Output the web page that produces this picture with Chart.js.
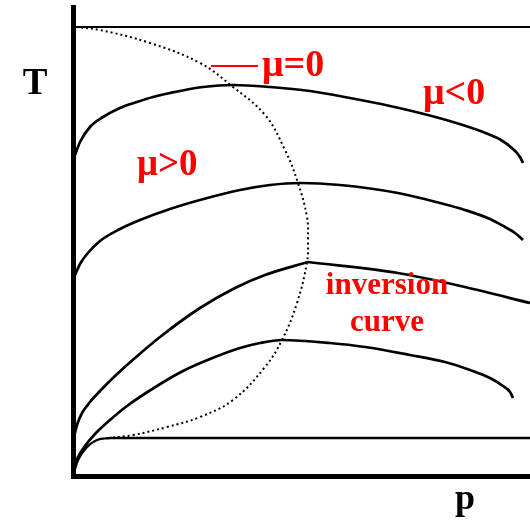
<!DOCTYPE html>
<html>
<head>
<meta charset="utf-8">
<script src="https://cdn.jsdelivr.net/npm/chart.js@4/dist/chart.umd.min.js"></script>
<style>
  html, body { margin: 0; padding: 0; background: #fff; }
  canvas { display: block; }
</style>
</head>
<body>
<canvas id="jt" width="530" height="520"></canvas>
<script>
/* ── Isenthalps (p, T) ── */
const topP = [0, 457];
const topT = [449, 449];

const h1P = [2, 7, 17, 30, 47, 64, 80, 97, 130, 160, 197, 237, 277, 317, 347, 380, 410, 428, 440, 447, 450];
const h1T = [321, 334, 349, 359, 368, 374, 379, 383, 389, 391, 389, 385, 378, 370, 363, 354, 344, 336, 327, 319, 313];

const h2P = [2, 7, 14, 27, 47, 67, 97, 127, 167, 197, 227, 267, 325, 367, 392, 417, 432, 442, 450];
const h2T = [201, 212, 222, 235, 247, 256, 267, 276, 286, 291, 293, 291, 283, 273, 266, 257, 249, 243, 236];

const h3RiseP = [1, 4, 9, 17, 27, 42, 62, 87, 127, 162, 192, 235];
const h3RiseT = [39, 51, 63, 74, 85, 100, 118, 139, 168, 188, 201, 214];
const h3FallP = [235, 325, 392, 457];
const h3FallT = [214, 203, 189, 173];

const h4P = [1, 5, 12, 22, 37, 54, 84, 110, 137, 167, 187, 209, 257, 292, 337, 372, 397, 417, 430, 437, 440];
const h4T = [8, 19, 30, 42, 56, 70, 90, 105, 117, 128, 133, 136, 133, 129, 121, 114, 106, 98, 90, 84, 78];

const h5P = [1, 5, 14, 24, 37];
const h5T = [4, 16, 29, 36, 38];
const baseP = [37, 457];
const baseT = [38, 38];

/* ── Inversion curve (dotted) ── */
const invP = [3, 27, 77, 127, 160, 192, 212, 225, 234, 235, 234, 224, 209, 192, 160, 127, 94, 60, 37];
const invT = [449, 446, 433, 413, 389, 361, 326, 293, 259, 236, 214, 173, 136, 109, 76, 59, 49, 41, 38];

/* ── Leader line for μ=0 ── */
const leadP = [138, 185];
const leadT = [410, 410];

/* ── Text labels ── */
const labelText = ['T', 'p', 'μ=0', 'μ<0', 'μ>0', 'inversion', 'curve'];
const labelP    = [-38, 392, 189, 350, 64, 314, 314];
const labelT    = [382, -33, 400, 372, 301, 182, 145];

const pts = (ps, ts) => ps.map((p, i) => ({ x: p, y: ts[i] }));

function line(ps, ts, extra) {
  return Object.assign({
    data: pts(ps, ts),
    showLine: true,
    borderColor: '#000',
    borderWidth: 2.7,
    pointRadius: 0,
    fill: false,
    cubicInterpolationMode: 'monotone'
  }, extra || {});
}

const labelStyle = [
  { font: 'bold 37px "Liberation Serif", serif', color: '#000', align: 'center' },
  { font: 'bold 36px "Liberation Serif", serif', color: '#000', align: 'center' },
  { font: 'bold 38px "Liberation Serif", serif', color: '#f00', align: 'left' },
  { font: 'bold 38px "Liberation Serif", serif', color: '#f00', align: 'left' },
  { font: 'bold 37px "Liberation Serif", serif', color: '#f00', align: 'left' },
  { font: 'bold 31px "Liberation Serif", serif', color: '#f00', align: 'center' },
  { font: 'bold 31px "Liberation Serif", serif', color: '#f00', align: 'center' }
];

const textLabels = {
  id: 'textLabels',
  afterDatasetsDraw(chart) {
    const { ctx, scales: { x, y } } = chart;
    ctx.save();
    ctx.textBaseline = 'alphabetic';
    labelText.forEach((t, i) => {
      const s = labelStyle[i];
      ctx.font = s.font;
      ctx.fillStyle = s.color;
      ctx.textAlign = s.align;
      ctx.fillText(t, x.getPixelForValue(labelP[i]), y.getPixelForValue(labelT[i]));
    });
    ctx.restore();
  }
};

new Chart(document.getElementById('jt'), {
  type: 'scatter',
  data: {
    datasets: [
      line(topP, topT, { borderWidth: 2.2 }),
      line(h1P, h1T),
      line(h2P, h2T),
      line(h3RiseP, h3RiseT),
      line(h3FallP, h3FallT),
      line(h4P, h4T),
      line(h5P, h5T, { borderWidth: 2.4 }),
      line(baseP, baseT, { borderWidth: 2.4 }),
      line(invP, invT, { borderWidth: 2, borderDash: [2, 3], cubicInterpolationMode: 'default', tension: 0.4 }),
      line(leadP, leadT, { borderColor: '#f00', borderWidth: 2 })
    ]
  },
  options: {
    responsive: false,
    animation: false,
    layout: { padding: { left: 73, top: 7, right: 0, bottom: 44 } },
    plugins: { legend: { display: false }, tooltip: { enabled: false } },
    scales: {
      x: {
        type: 'linear', min: 0, max: 457,
        grid: { display: false, drawTicks: false },
        ticks: { display: false },
        border: { display: true, color: '#000', width: 5 },
        afterFit: s => { s.height = 0; }
      },
      y: {
        type: 'linear', min: 0, max: 469,
        grid: { display: false, drawTicks: false },
        ticks: { display: false },
        border: { display: true, color: '#000', width: 5 },
        afterFit: s => { s.width = 0; }
      }
    }
  },
  plugins: [textLabels]
});
</script>
</body>
</html>
